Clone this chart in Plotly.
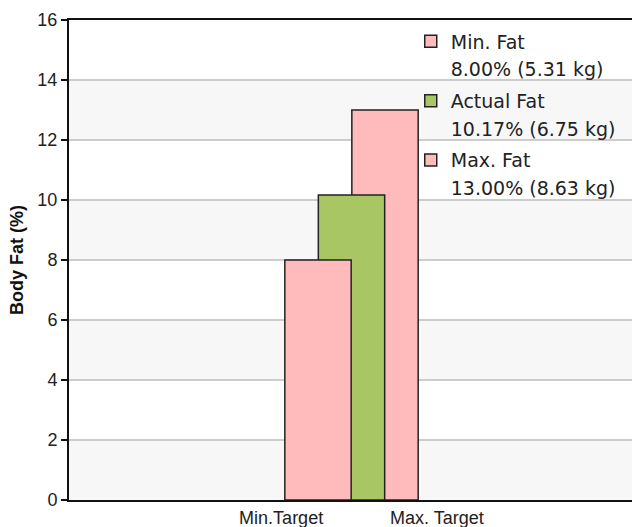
import plotly.graph_objects as go

# Body-fat ranges (percent of body weight) and the matching mass in kg
labels = ["Min. Fat", "Actual Fat", "Max. Fat"]
fat_pct = [8.00, 10.17, 13.00]
fat_kg = [5.31, 6.75, 8.63]
bar_pos = [-1, 0, 1]          # overlapping bar centres on the numeric x axis
bar_colors = ["#ffbbbb", "#a8c664", "#ffbbbb"]

x_ticks = [-2.1, 2.55]
x_tick_text = ["Min.Target", "Max. Target"]
y_ticks = list(range(0, 17, 2))

fig = go.Figure()

# draw Max first, then Actual, then Min so Min sits on top;
# each bar gets a companion legend row carrying its value text
for i in reversed(range(len(labels))):
    fig.add_trace(go.Bar(
        x=[bar_pos[i]],
        y=[fat_pct[i]],
        width=1.98,
        name=labels[i],
        marker=dict(color=bar_colors[i], line=dict(color="#222222", width=1.5)),
        legendgroup=labels[i],
        legendrank=2 * i + 1,
    ))
    fig.add_trace(go.Scatter(
        x=[None], y=[None], mode="none",
        name=f"{fat_pct[i]:.2f}% ({fat_kg[i]:.2f} kg)",
        legendgroup=labels[i], legendrank=2 * i + 2,
        hoverinfo="skip",
    ))

# alternating horizontal bands behind the bars
for lo in y_ticks[:-1:2]:
    fig.add_shape(type="rect", xref="paper", yref="y", x0=0, x1=1, y0=lo, y1=lo + 2,
                  fillcolor="#f7f7f7", line=dict(width=0), layer="below")

fig.update_layout(
    width=632, height=527,
    margin=dict(l=69, r=0, t=20, b=27, autoexpand=False),
    paper_bgcolor="white",
    plot_bgcolor="white",
    barmode="overlay",
    showlegend=True,
    legend=dict(
        x=0.607, y=0.995, xanchor="left", yanchor="top",
        traceorder="grouped",
        bgcolor="rgba(0,0,0,0)",
        font=dict(family="DejaVu Sans", size=19, color="#222222"),
        tracegroupgap=4,
        itemclick=False, itemdoubleclick=False,
    ),
    xaxis=dict(
        range=[-8.43, 8.37],
        tickvals=x_ticks, ticktext=x_tick_text,
        showgrid=False, zeroline=False,
        showline=True, linecolor="#111111", linewidth=2, mirror=True,
        ticks="",
        tickfont=dict(family="Liberation Sans, Arial", size=18, color="#222222"),
    ),
    yaxis=dict(
        range=[0, 16], tickvals=y_ticks,
        showgrid=True, gridcolor="#cccccc", gridwidth=2,
        zeroline=False,
        showline=True, linecolor="#111111", linewidth=2,
        ticks="outside", ticklen=6, tickcolor="#111111", tickwidth=2,
        tickfont=dict(family="Liberation Sans, Arial", size=18, color="#222222"),
        title=dict(text="<b>Body Fat (%)</b>", standoff=9,
                   font=dict(family="Liberation Sans, Arial", size=18, color="#111111")),
    ),
)

fig.write_html("out.html")
